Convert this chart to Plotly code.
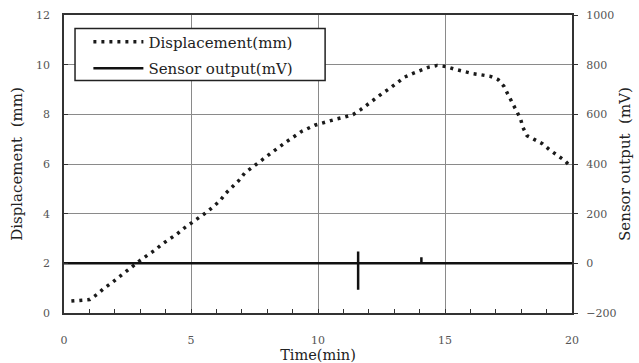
import plotly.graph_objects as go

# Displacement (mm) vs time (min)
time_disp = [0.29, 0.58, 1.01, 1.3, 1.58, 1.87, 2.15, 2.43, 2.72, 3.0, 3.29, 3.58, 3.87,
             4.16, 4.45, 4.72, 5.0, 5.3, 5.59, 5.88, 6.14, 6.37, 6.61, 6.87, 7.11, 7.64,
             8.23, 8.78, 9.35, 9.87, 10.35, 10.72, 11.05, 11.38, 11.68, 11.97, 12.27,
             12.53, 12.82, 13.11, 13.41, 13.72, 14.03, 14.36, 14.69, 15.06, 15.41, 15.75,
             16.1, 16.43, 16.79, 17.09, 17.32, 17.48, 17.64, 17.81, 17.97, 18.07, 18.23,
             18.53, 18.83, 19.12, 19.41, 19.71, 19.94]
displacement = [0.48, 0.5, 0.54, 0.75, 1.0, 1.21, 1.44, 1.68, 1.9, 2.12, 2.33, 2.53, 2.78,
                2.98, 3.18, 3.41, 3.61, 3.81, 4.04, 4.28, 4.52, 4.82, 5.07, 5.32, 5.63, 6.06,
                6.5, 6.91, 7.31, 7.56, 7.72, 7.81, 7.89, 7.99, 8.19, 8.42, 8.62,
                8.84, 9.04, 9.27, 9.5, 9.64, 9.78, 9.9, 9.97, 9.92, 9.81, 9.71,
                9.64, 9.59, 9.53, 9.4, 9.13, 8.8, 8.46, 8.15, 7.83, 7.47, 7.14,
                6.98, 6.82, 6.57, 6.37, 6.14, 5.9]

# Sensor output (mV) vs time (min)
time_sensor = [0, 11.58, 11.58, 11.58, 11.58, 14.07, 14.07, 14.07, 20]
sensor_mv = [0, 0, 48, -106, 0, 0, 24, 0, 0]

x_ticks = [0, 5, 10, 15, 20]
y_ticks = [0, 2, 4, 6, 8, 10, 12]
y2_ticks = [-200, 0, 200, 400, 600, 800, 1000]

SERIF = "DejaVu Serif"

fig = go.Figure()
fig.add_trace(go.Scatter(
    x=time_disp, y=displacement, mode="lines", name="Displacement(mm)",
    line=dict(color="#1a1a1a", width=3.5, dash="3px,5px"),
    legendgroup="a", yaxis="y"))
fig.add_trace(go.Scatter(
    x=time_sensor, y=sensor_mv, mode="lines", name="Sensor output(mV)",
    line=dict(color="#111111", width=2.5),
    legendgroup="b", yaxis="y2"))

# legend frame box
fig.add_shape(type="rect", xref="paper", yref="paper",
              x0=0.0217, x1=0.514, y0=0.780, y1=0.955,
              fillcolor="white", line=dict(color="#222", width=1.5), layer="above")

fig.update_layout(
    width=639, height=363,
    margin=dict(l=64, r=67, t=15, b=50),
    paper_bgcolor="white", plot_bgcolor="white",
    font=dict(family=SERIF, color="#222"),
    showlegend=True,
    legend=dict(
        x=0.048, y=0.965, xanchor="left", yanchor="top",
        bgcolor="rgba(0,0,0,0)", borderwidth=0,
        font=dict(family=SERIF, size=15, color="#222"),
        itemwidth=50, traceorder="grouped", tracegroupgap=4,
    ),
    xaxis=dict(
        range=[0, 20], tickvals=x_ticks, ticktext=[str(v) for v in x_ticks],
        showgrid=True, gridcolor="#8a8a8a", gridwidth=1,
        showline=True, linecolor="#333", linewidth=1.5, mirror=True,
        ticks="inside", ticklen=4, tickcolor="#333",
        minor=dict(tickmode="linear", tick0=0, dtick=1, ticks="inside", ticklen=4,
                   tickwidth=1.2, tickcolor="#333", showgrid=False),
        tickfont=dict(family=SERIF, size=11, color="#555"),
        ticklabelstandoff=16,
        zeroline=False, automargin=False,
        title=dict(text="Time(min)", font=dict(family=SERIF, size=14.5, color="#222"), standoff=3),
    ),
    yaxis=dict(
        range=[0, 12], tickvals=y_ticks,
        showgrid=True, gridcolor="#8a8a8a", gridwidth=1,
        showline=True, linecolor="#333", linewidth=1.5, mirror=True,
        ticks="inside", ticklen=4, tickcolor="#333",
        tickfont=dict(family=SERIF, size=11, color="#555"),
        ticklabelstandoff=10,
        zeroline=False, automargin=False,
        title=dict(text="Displacement  (mm)", font=dict(family=SERIF, size=15, color="#222"), standoff=10),
    ),
    yaxis2=dict(
        range=[-200, 1000], tickvals=y2_ticks, overlaying="y", side="right",
        showgrid=False, zeroline=False,
        showline=False,
        ticks="outside", ticklen=5, tickcolor="#333",
        tickfont=dict(family=SERIF, size=11, color="#555"),
        ticklabelstandoff=6, automargin=False,
        title=dict(text="Sensor output  (mV)", font=dict(family=SERIF, size=15, color="#222"), standoff=4),
    ),
)

fig.write_html("out.html", config={"displayModeBar": False},
               post_script="document.body.style.margin='0';")
